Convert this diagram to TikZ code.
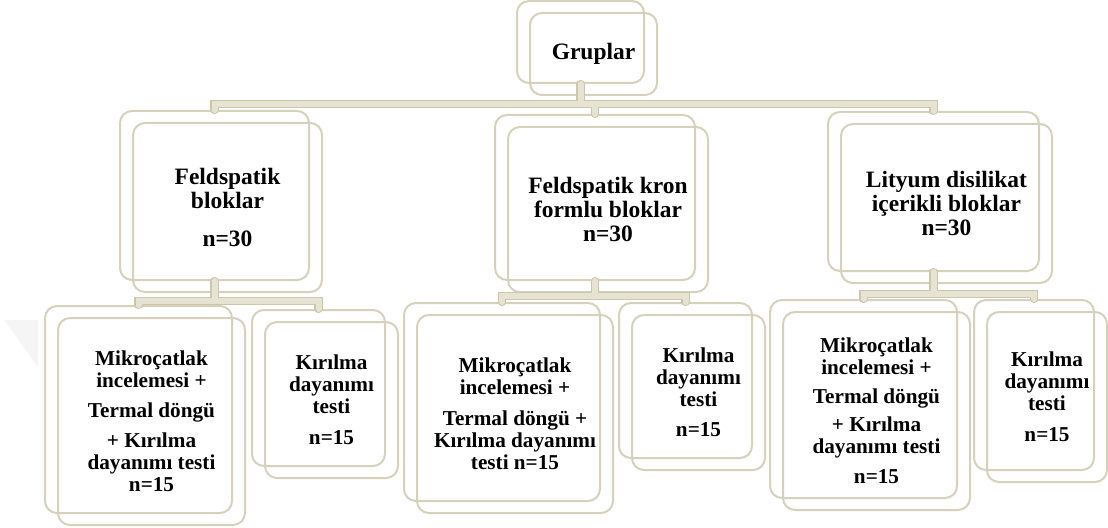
\documentclass[tikz,border=0pt]{standalone}
\usepackage{fontspec}
\setmainfont{Liberation Serif}
\usetikzlibrary{shadows}
\definecolor{kutucizgi}{RGB}{214,209,188}
\definecolor{baglantiacik}{RGB}{231,227,210}
\definecolor{baglantikoyu}{RGB}{204,198,174}
\tikzset{
    %Define style for boxes (front box with a copy behind it)
    kutu/.style={
             rectangle, rounded corners=9pt,
             draw=kutucizgi, line width=1.5pt,
             align=center, inner sep=2pt,
             copy shadow={shadow xshift=-9.75pt, shadow yshift=9pt,
                          draw=kutucizgi, line width=1.5pt, fill=none, opacity=1}},
    ustkutu/.style={
             kutu,
             font=\fontsize{17.6}{18}\selectfont\bfseries},
    altkutu/.style={
             kutu,
             font=\fontsize{15.9}{16.5}\selectfont\bfseries},
    % offset of the copy behind a box
    arka/.style={shift={(-13,-12)}},
    % Define connector style
    baglanti/.style={
             draw=baglantikoyu, line width=0.8pt,
             double=baglantiacik, double distance=4.5pt,
             line cap=round}
}
\begin{document}
\begin{tikzpicture}[x=0.75pt, y=-0.75pt]
 \useasboundingbox (0,0) rectangle (1108,528);
 \fill[black!4] (4,320) -- (38,320) -- (38,367) -- cycle;
 \node[ustkutu, minimum width=95.25pt, minimum height=61.5pt] (gruplar) at (593.5,54) {Gruplar};
 \node[ustkutu, minimum width=141.75pt, minimum height=126.75pt] (feld) at (227.5,207.5) {Feldspatik\\bloklar\\[10pt]n=30};
 \node[ustkutu, minimum width=150pt, minimum height=123.75pt] (kron) at (608,209.5) {Feldspatik kron\\formlu bloklar\\n=30};
 \node[ustkutu, minimum width=158.25pt, minimum height=119.25pt] (lityum) at (946.5,203.5) {Lityum disilikat\\içerikli bloklar\\n=30};
 \node[altkutu, minimum width=140.25pt, minimum height=155.25pt] (feldmik) at (151.5,421.5) {Mikroçatlak\\incelemesi +\\[6pt]Termal döngü\\[6pt]+ Kırılma\\dayanımı testi\\n=15};
 \node[altkutu, minimum width=99.75pt, minimum height=117pt] (feldkir) at (331.5,400) {Kırılma\\dayanımı\\testi\\[7pt]n=15};
 \node[altkutu, minimum width=147pt, minimum height=148.5pt] (kronmik) at (515,414) {Mikroçatlak\\incelemesi +\\[7pt]Termal döngü +\\Kırılma dayanımı\\testi n=15};
 \node[altkutu, minimum width=99.75pt, minimum height=116.25pt] (kronkir) at (698.5,392.5) {Kırılma\\dayanımı\\testi\\[6pt]n=15};
 \node[altkutu, minimum width=140.25pt, minimum height=148.5pt] (lityummik) at (876.5,411) {Mikroçatlak\\incelemesi +\\[5pt]Termal döngü\\[5pt]+ Kırılma\\dayanımı testi\\[6pt]n=15};
 \node[altkutu, minimum width=90pt, minimum height=127.5pt] (lityumkir) at (1047,397) {Kırılma\\dayanımı\\testi\\[7pt]n=15};
 \path[baglanti] ([arka]gruplar.south) -- ++(0,20) -| ([arka]feld.north)
                 ([arka]gruplar.south) -- ++(0,20) -| ([arka]kron.north)
                 ([arka]gruplar.south) -- ++(0,20) -| ([arka]lityum.north);
 \path[baglanti] ([arka]feld.south) -- ++(0,20) -| ([arka]feldmik.north)
                 ([arka]feld.south) -- ++(0,20) -| ([arka]feldkir.north);
 \path[baglanti] ([arka]kron.south) -- ++(0,15) -| ([arka]kronmik.north)
                 ([arka]kron.south) -- ++(0,15) -| ([arka]kronkir.north);
 \path[baglanti] ([arka]lityum.south) -- ++(0,22) -| ([arka]lityummik.north)
                 ([arka]lityum.south) -- ++(0,22) -| ([arka]lityumkir.north);
\end{tikzpicture}
\end{document}
